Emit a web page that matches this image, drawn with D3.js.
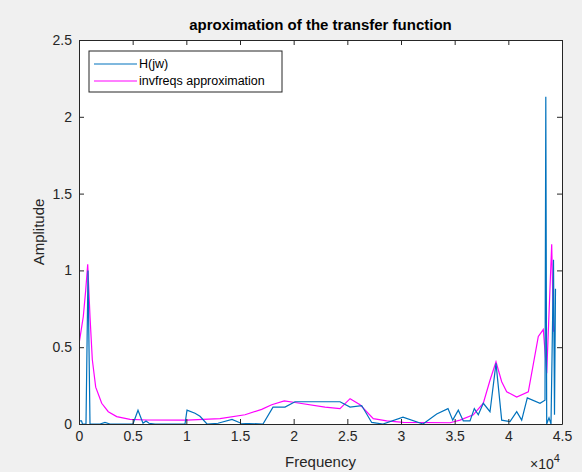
<!DOCTYPE html>
<html>
<head>
<meta charset="utf-8">
<script src="https://cdn.jsdelivr.net/npm/d3@7"></script>
<style>
  body { margin: 0; background: #f0f0f0; }
  svg { display: block; font-family: "Liberation Sans", Arial, sans-serif; }
</style>
</head>
<body>
<svg id="chart" width="582" height="472"></svg>
<script>
// H(jw) samples: frequency (Hz) and amplitude
const hFreq = [93, 233, 326, 652, 839, 1025, 1957, 2422, 2888, 5031, 5497, 5963, 6242, 6522, 7081,
  9876, 10062, 10807, 11273, 11925, 12950, 14255, 15093, 17143, 18075, 19193, 20124, 24317, 25255,
  26338, 27270, 28323, 30186, 32050, 33326, 34379, 34817, 35339, 35805, 36429, 36830, 37202, 37668,
  38292, 38851, 39382, 40155, 40780, 41245, 41767, 42950, 43416, 43491, 43575, 43789, 43975, 44208,
  44301, 44394];
const hAmp = [0.02, 0.02, 0, 0, 1.0, 0, 0, 0.01, 0, 0, 0.09, 0.005, 0.02, 0.005, 0,
  0, 0.09, 0.07, 0.05, 0, 0.005, 0.03, 0.005, 0, 0.11, 0.11, 0.145, 0.145, 0.11,
  0.12, 0.01, 0, 0.045, 0, 0.065, 0.1, 0.025, 0.09, 0.02, 0.02, 0.1, 0.06, 0.135,
  0.08, 0.395, 0.025, 0.015, 0.08, 0.025, 0.17, 0.135, 0.155, 2.13, 0, 0.04, 0, 1.07,
  0.06, 0.88];

// invfreqs approximation
const aFreq = [0, 401, 624, 811, 1025, 1239, 1556, 2115, 2730, 3512, 4752, 6307, 10034, 13137,
  15466, 17022, 17953, 19128, 20124, 22919, 24317, 25255, 26186, 27418, 28667, 30214, 34565,
  35497, 36736, 37668, 38292, 38851, 39382, 39848, 40780, 41861, 42793, 43258, 43575, 44040, 44208];
const aAmp = [0.52, 0.70, 0.87, 1.04, 0.70, 0.42, 0.24, 0.135, 0.08, 0.048, 0.03, 0.026, 0.025, 0.035,
  0.06, 0.095, 0.125, 0.15, 0.14, 0.11, 0.10, 0.165, 0.125, 0.035, 0.02, 0.01, 0.008,
  0.025, 0.06, 0.135, 0.285, 0.405, 0.275, 0.21, 0.175, 0.21, 0.57, 0.615, 0.33, 1.17, 0.6];

const xTicks = [0, 5000, 10000, 15000, 20000, 25000, 30000, 35000, 40000, 45000];
const yTicks = [0, 0.5, 1, 1.5, 2, 2.5];
const legendNames = ["H(jw)", "invfreqs approximation"];
const colors = ["#0072BD", "#FF00FF"];

const svg = d3.select("#chart");
const m = { left: 79, right: 562, top: 40, bottom: 424 };

const x = d3.scaleLinear().domain([0, 45000]).range([m.left, m.right]);
const y = d3.scaleLinear().domain([0, 2.5]).range([m.bottom, m.top]);

// plot background
svg.append("rect")
  .attr("x", m.left).attr("y", m.top)
  .attr("width", m.right - m.left).attr("height", m.bottom - m.top)
  .attr("fill", "#fff");

svg.append("clipPath").attr("id", "clip")
  .append("rect")
  .attr("x", m.left).attr("y", m.top - 1)
  .attr("width", m.right - m.left).attr("height", m.bottom - m.top + 1);

const line = d3.line().x(d => x(d[0])).y(d => y(d[1]));

const g = svg.append("g").attr("clip-path", "url(#clip)");
g.append("path")
  .datum(aFreq.map((f, i) => [f, aAmp[i]]))
  .attr("fill", "none").attr("stroke", colors[1]).attr("stroke-width", 1.2)
  .attr("d", line);
g.append("path")
  .datum(hFreq.map((f, i) => [f, hAmp[i]]))
  .attr("fill", "none").attr("stroke", colors[0]).attr("stroke-width", 1.2)
  .attr("d", line);

// axes (ticks inward, box on)
const fmtX = d => d3.format("")(d / 10000);
const axisStyle = sel => {
  sel.selectAll("path").attr("stroke", "#262626");
  sel.selectAll("line").attr("stroke", "#262626");
  sel.selectAll("text").attr("fill", "#262626").attr("font-size", 14)
    .attr("font-family", "Liberation Sans, Arial, sans-serif");
};

svg.append("g")
  .attr("transform", `translate(0,${m.bottom})`)
  .call(d3.axisBottom(x).tickValues(xTicks).tickFormat(fmtX).tickSizeInner(-5).tickSizeOuter(0).tickPadding(7))
  .call(axisStyle);
svg.append("g")
  .attr("transform", `translate(0,${m.top})`)
  .call(d3.axisTop(x).tickValues(xTicks).tickFormat("").tickSizeInner(-5).tickSizeOuter(0))
  .call(axisStyle);
svg.append("g")
  .attr("transform", `translate(${m.left},0)`)
  .call(d3.axisLeft(y).tickValues(yTicks).tickFormat(d3.format("")).tickSizeInner(-5).tickSizeOuter(0).tickPadding(7))
  .call(axisStyle);
svg.append("g")
  .attr("transform", `translate(${m.right},0)`)
  .call(d3.axisRight(y).tickValues(yTicks).tickFormat("").tickSizeInner(-5).tickSizeOuter(0))
  .call(axisStyle);

// title and labels
svg.append("text")
  .attr("x", (m.left + m.right) / 2).attr("y", 30)
  .attr("text-anchor", "middle").attr("font-size", 15).attr("font-weight", "bold")
  .attr("fill", "#000")
  .text("aproximation of the transfer function");

svg.append("text")
  .attr("x", (m.left + m.right) / 2).attr("y", 467)
  .attr("text-anchor", "middle").attr("font-size", 15).attr("fill", "#262626")
  .text("Frequency");

svg.append("text")
  .attr("transform", `translate(44,${(m.top + m.bottom) / 2}) rotate(-90)`)
  .attr("text-anchor", "middle").attr("font-size", 15).attr("fill", "#262626")
  .text("Amplitude");

const exp = svg.append("text")
  .attr("x", 530).attr("y", 469)
  .attr("font-size", 14).attr("fill", "#262626");
exp.append("tspan").text("\u00d710");
exp.append("tspan").attr("dy", -7).attr("font-size", 11).text("4");

// legend
const lg = svg.append("g").attr("transform", "translate(89,51)");
lg.append("rect")
  .attr("width", 193).attr("height", 41)
  .attr("fill", "#fff").attr("stroke", "#262626").attr("stroke-width", 1);
legendNames.forEach((name, i) => {
  const yy = 13 + i * 17;
  lg.append("line")
    .attr("x1", 5).attr("x2", 48).attr("y1", yy).attr("y2", yy)
    .attr("stroke", colors[i]).attr("stroke-width", 1.2);
  lg.append("text")
    .attr("x", 50).attr("y", yy + 4)
    .attr("font-size", 12.5).attr("fill", "#000")
    .text(name);
});
</script>
</body>
</html>
